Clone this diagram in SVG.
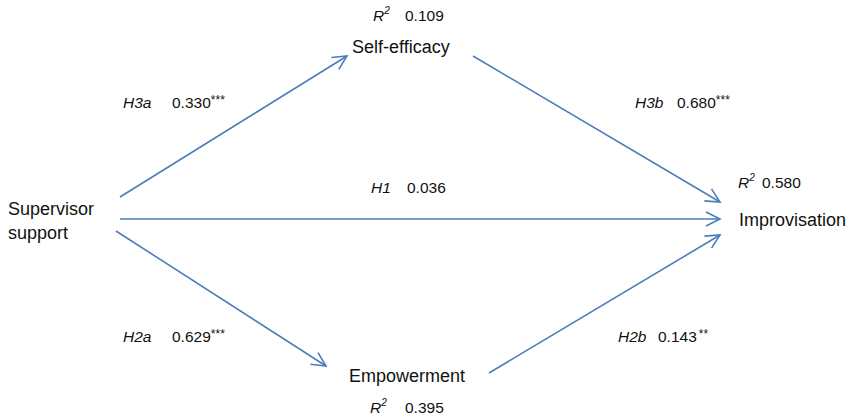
<svg xmlns="http://www.w3.org/2000/svg" width="854" height="420" viewBox="0 0 854 420">
<defs>
<marker id="arr" markerUnits="userSpaceOnUse" markerWidth="20" markerHeight="20" viewBox="0 0 20 20" refX="17" refY="10" orient="auto">
<path d="M3,3 L17,10 L3,17" fill="none" stroke="#4a7ebb" stroke-width="1.6"/>
</marker>
<style>
.node{font-family:"Liberation Sans",Arial,sans-serif;font-size:18px;fill:#111}
.lab{font-family:"Liberation Sans",Arial,sans-serif;font-size:15.5px;fill:#111}
.it{font-style:italic}
.sup{font-size:10px}
.st{font-size:12px}
.edge{stroke:#4a7ebb;stroke-width:1.6;fill:none;marker-end:url(#arr)}
</style>
</defs>
<rect width="854" height="420" fill="#fff"/>
<g id="connectors">
<line class="edge" x1="120" y1="197" x2="347" y2="56"/>
<line class="edge" x1="473" y1="56" x2="720" y2="202"/>
<line class="edge" x1="120" y1="219" x2="720" y2="219"/>
<line class="edge" x1="116" y1="231" x2="326" y2="366"/>
<line class="edge" x1="489" y1="373" x2="720" y2="235"/>
</g>
<g id="supervisor">
<text class="node" x="8" y="215">Supervisor</text>
<text class="node" x="8" y="239">support</text>
</g>
<g id="selfefficacy">
<text class="lab" x="373" y="21"><tspan class="it">R</tspan><tspan class="it sup" dy="-7">2</tspan><tspan dy="7" x="405">0.109</tspan></text>
<text class="node" x="352" y="53">Self-efficacy</text>
</g>
<g id="empowerment">
<text class="node" x="349" y="382">Empowerment</text>
<text class="lab" x="370" y="413"><tspan class="it">R</tspan><tspan class="it sup" dy="-7">2</tspan><tspan dy="7" x="405">0.395</tspan></text>
</g>
<g id="improvisation">
<text class="lab" x="738" y="188"><tspan class="it">R</tspan><tspan class="it sup" dy="-7">2</tspan><tspan dy="7" x="762">0.580</tspan></text>
<text class="node" x="739" y="226">Improvisation</text>
</g>
<g id="labels">
<text class="lab" x="123" y="108"><tspan class="it">H3a</tspan><tspan x="172">0.330</tspan><tspan class="st" dy="-4">***</tspan></text>
<text class="lab" x="635" y="108"><tspan class="it">H3b</tspan><tspan x="677">0.680</tspan><tspan class="st" dy="-4">***</tspan></text>
<text class="lab" x="371" y="193"><tspan class="it">H1</tspan><tspan x="407">0.036</tspan></text>
<text class="lab" x="123" y="342"><tspan class="it">H2a</tspan><tspan x="172">0.629</tspan><tspan class="st" dy="-4">***</tspan></text>
<text class="lab" x="618" y="342"><tspan class="it">H2b</tspan><tspan x="658">0.143</tspan><tspan class="st" dx="2" dy="-4">**</tspan></text>
</g>
</svg>
